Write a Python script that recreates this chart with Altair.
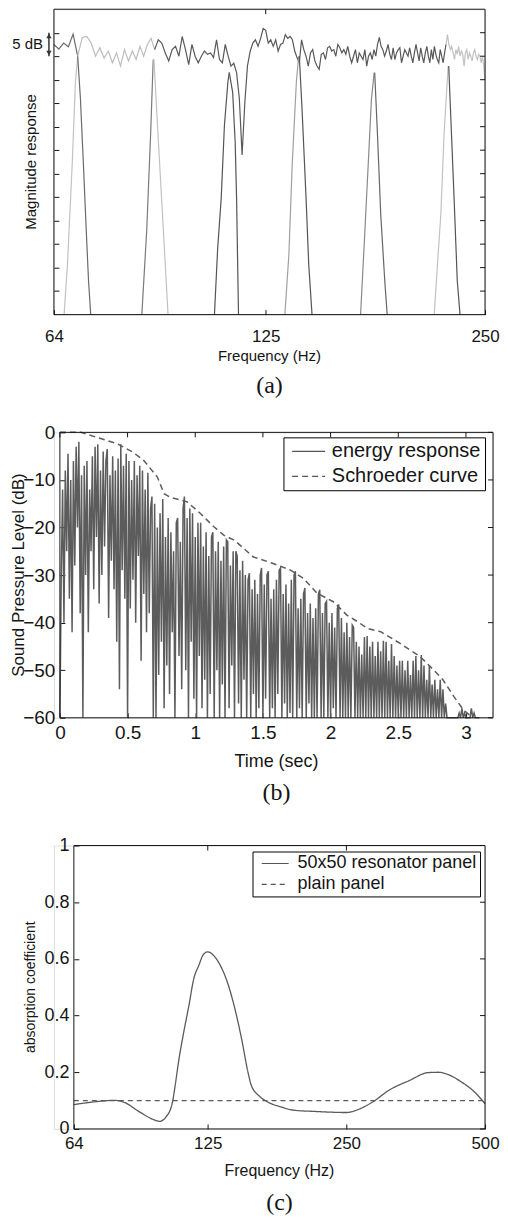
import altair as alt
import pandas as pd

FONT = "Liberation Sans"
SERIF = "Liberation Serif"
INK = "#151515"
TICK = 5

# ---------------- panel (a): magnitude responses ----------------
A_FREQ = list(range(64, 251))
A_TOP_DB = [
    -2.5, -3.5, -2.2, -3.0, -0.3, -5.0, -1.0,                          # 64-70
    -0.8, -2.2, -5.0, -3.2, -5.4, -3.9, -6.4, -4.3, -7.1, -3.6,        # 71-80
    -6.0, -3.9, -5.7, -2.9, -5.0, -2.5, -1.2, -3.6, -1.5, -2.2,        # 81-90
    -4.3, -6.0, -3.6, -2.9, -5.0, -0.8, -3.6, -6.8, -2.5, -5.0,        # 91-100
    -6.4, -5.0, -3.9, -4.6, -4.3, -5.3, -1.5, -5.7, -6.4, -2.5,        # 101-110
    -5.0, -7.1, -6.5, -8.5, -14.0, -26.0, -15.0, -7.0, -4.0, -2.2,     # 111-120
    -1.5, -2.9, -1.2, 0.9, 0.5, -2.2, -1.5, -2.9, -1.5, -3.9,          # 121-130
    -2.5, -2.2, -0.4, -1.2, -0.8, -1.5, -3.9, -5.3, -6.4, -1.5,        # 131-140
    -3.6, -5.0, -7.1, -4.3, -3.6, -6.0, -7.1, -7.8, -4.6, -4.3,        # 141-150
    -5.7, -3.2, -2.9, -3.9, -3.6, -5.0, -2.5, -3.2, -4.3, -3.6,        # 151-160
    -4.6, -2.9, -5.0, -6.4, -5.0, -3.6, -6.4, -4.3, -5.0, -5.7,        # 161-170
    -3.6, -7.1, -5.0, -4.3, -5.7, -3.6, -5.0, -2.5, -1.0, -2.9,        # 171-180
    -3.6, -5.0, -3.9, -2.5, -4.6, -5.7, -3.2, -5.7, -4.3, -3.6,        # 181-190
    -3.2, -6.4, -5.0, -3.6, -4.3, -5.0, -3.2, -5.0, -6.4, -4.3,        # 191-200
    -2.5, -4.3, -6.0, -3.2, -5.0, -6.4, -4.3, -2.9, -5.0, -6.4,        # 201-210
    -3.6, -5.7, -2.9, -4.6, -5.7, -6.4, -3.6, -5.0, -6.4, -4.3,        # 211-220
    -2.5, -0.4, -2.5, -3.6, -2.9, -4.3, -5.7, -3.6, -4.6, -2.9,        # 221-230
    -5.0, -3.9, -4.6, -7.1, -4.3, -3.6, -5.7, -4.3, -5.0, -6.0,        # 231-240
    -4.3, -3.6, -5.0, -5.7, -4.6, -5.0, -6.4, -5.0, -7.0, -10.0,       # 241-250
]
# colour segments of the broadband curve: (name, from Hz, to Hz, colour)
A_TOP_SEGMENTS = [
    ("top 1", 64, 69, "#6b6b6b"),
    ("top 2", 69, 88, "#bdbdbd"),
    ("top 3", 88, 221, "#595959"),
    ("top 4", 221, 250, "#c2c2c2"),
]
# band-filter legs: (name, colour, frequencies, dB)
A_LEGS = [
    ("p1 l", "#c2c2c2", [66.1, 66.8, 67.8, 68.5, 69.0], [-60, -49.3, -28.2, -10.6, -5.0]),
    ("p1 r", "#6b6b6b", [69.0, 69.6, 70.2, 70.9, 71.4, 71.9], [-5.0, -14.1, -26.8, -42.3, -52.8, -60]),
    ("p2 l", "#7a7a7a", [84.5, 85.8, 86.9, 87.6], [-60, -42.3, -21.2, -5.7]),
    ("p2 r", "#c2c2c2", [87.8, 89.0, 90.2, 91.8], [-5.7, -22.6, -38.7, -60]),
    ("p3 l", "#555555", [106.3, 107.4, 108.6, 109.7, 110.9, 111.4], [-60, -45.8, -35.2, -19.8, -10.6, -8.5]),
    ("p3 r", "#555555", [111.4, 112.6, 113.5, 114.0, 114.7], [-8.5, -12.7, -23.3, -35.2, -60]),
    ("p4 l", "#a0a0a0", [132.8, 134.5, 135.9, 137.7, 138.7], [-60, -47.2, -28.2, -10.6, -5.0]),
    ("p4 r", "#555555", [139.0, 140.2, 142.0, 143.2, 144.7], [-5.0, -16.2, -35.2, -49.3, -60]),
    ("p5 l", "#8a8a8a", [168.7, 171.0, 172.8, 174.6, 176.1], [-60, -42.3, -28.2, -14.1, -8.5]),
    ("p5 r", "#666666", [176.4, 177.9, 179.8, 182.1, 183.5], [-8.5, -21.2, -38.7, -52.8, -60]),
    ("p6 l", "#c2c2c2", [212.9, 215.1, 217.4, 219.7, 222.5], [-60, -49.3, -38.7, -21.2, -7.1]),
    ("p6 r", "#555555", [222.9, 224.8, 226.7, 229.0, 231.0], [-7.1, -21.2, -35.2, -52.8, -60]),
]
A_XTICKS = [64, 125, 250]
A_YTICKS = [-55, -50, -45, -40, -35, -30, -25, -20, -15, -10, -5, 0]

# ---------------- panel (b): energy decay ----------------
B_ENERGY_DB = [
    -60, -30, -12, -40, -8, -25, -4.5, -35, -10, -42,
    -6, -28, -3, -20, -2, -38, -9, -60, -7, -30,
    -6, -42, -12, -25, -5, -33, -3, -22, -2.5, -36,
    -8, -30, -4, -24, -6, -3.5, -39, -9, -27, -5,
    -33, -8, -44, -5.5, -54, -2.5, -29, -7, -35, -4.5,
    -60, -6, -37, -10, -31, -6, -40, -9, -26, -7,
    -48, -8, -34, -12, -42, -8.5, -38, -16, -13.5, -60,
    -15, -60, -20, -51, -17, -44, -14, -58, -22, -49,
    -18, -55, -21, -42, -25, -60, -19, -18, -47, -23,
    -54, -16, -13.5, -50, -18, -60, -16, -44, -17, -56,
    -22, -60, -19, -47, -19, -58, -24, -52, -21, -60,
    -26, -55, -22, -21, -60, -25, -50, -23, -60, -27,
    -53, -24, -60, -22.6, -23, -58, -28, -49, -25, -60,
    -25, -26, -57, -29, -60, -27, -52, -30, -60, -31,
    -29.6, -60, -33, -55, -31, -60, -34, -58, -30, -28.5,
    -60, -32, -56, -30, -29.2, -60, -35, -58, -33, -60,
    -31, -55, -29, -28.5, -60, -34, -57, -32, -60, -36,
    -59, -31, -60, -30, -29.2, -60, -37, -58, -35, -60,
    -34, -32.7, -60, -38, -57, -36, -60, -39, -60, -37,
    -60, -34, -33.1, -60, -38, -60, -36, -35.5, -60, -40,
    -60, -38, -58, -41, -60, -37, -36.2, -60, -39, -60,
    -42, -60, -40, -60, -43, -60, -40.5, -41, -60, -44,
    -60, -45, -60, -46.7, -60, -43, -60, -42.8, -60, -45,
    -60, -44, -60, -47, -60, -44, -60, -46, -60, -43.8,
    -60, -44, -60, -48, -60, -44.5, -60, -47, -60, -49,
    -60, -48, -60, -48, -60, -50, -60, -48, -60, -51,
    -60, -48, -60, -47, -60, -50, -60, -46.8, -60, -49,
    -60, -52, -60, -49, -60, -53, -60, -52, -60, -54,
    -60, -52, -60, -54, -60, -57, -60, -60, -60, -60,
    -60, -60, -60, -60, -60, -59, -60, -58, -60, -59,
    -60, -60, -60, -60, -58, -60, -59, -60, -60, -60, -60,
]
B_STEP = 0.01  # sampling interval of the energy response (s)
B_SCHROEDER_T = [0.0, 0.155, 0.30, 0.425, 0.536, 0.62, 0.72, 0.77, 0.82, 0.94, 1.04, 1.14,
                 1.21, 1.29, 1.43, 1.56, 1.70, 1.80, 1.90, 2.02, 2.12, 2.20, 2.27, 2.37,
                 2.51, 2.66, 2.76, 2.83, 2.91, 2.98, 3.05]
B_SCHROEDER_DB = [0.0, 0.0, -1.3, -2.4, -4.1, -5.9, -9.4, -12.9, -13.7, -14.6, -17.1, -19.9,
                  -21.6, -22.7, -26.2, -27.4, -28.9, -30.7, -33.8, -35.6, -38.4, -39.8, -41.2, -41.9,
                  -44.3, -47.1, -49.9, -52.0, -55.5, -58.3, -60.0]
B_SERIES = ["energy response", "Schroeder curve"]
B_XTICKS = [0, 0.5, 1, 1.5, 2, 2.5, 3]
B_YTICKS = [-60, -50, -40, -30, -20, -10, 0]

# ---------------- panel (c): absorption ----------------
C_FREQ = [64, 73.3, 78.1, 82.0, 88.9, 95.0, 98.3, 101.4, 104.8, 105.7, 108.3, 110.9, 113.8,
          116.6, 119.6, 122.0, 125.0, 128.7, 133.0, 138.5, 143.1, 148.0, 152.8, 155.4,
          162.0, 168.8, 180.0, 192.4, 212.2, 250.0, 262.5, 285.0, 309.6, 341.6, 377.0, 395.9,
          415.6, 444.0, 474.0, 500.0]
C_ALPHA = [0.086, 0.098, 0.101, 0.095, 0.060, 0.034, 0.027, 0.042, 0.095, 0.131, 0.249, 0.343, 0.437,
           0.531, 0.578, 0.613, 0.625, 0.612, 0.578, 0.508, 0.425, 0.319, 0.201, 0.154,
           0.115, 0.095, 0.078, 0.066, 0.062, 0.058, 0.066, 0.095, 0.137, 0.170, 0.199, 0.200,
           0.192, 0.166, 0.131, 0.089]
C_PLAIN_FREQ = [64, 500]
C_PLAIN_ALPHA = [0.1, 0.1]
C_SERIES = ["50x50 resonator panel", "plain panel"]
C_XTICKS = [64, 125, 250, 500]
C_YTICKS = [0, 0.2, 0.4, 0.6, 0.8, 1]

LEFT_EXTENT = 45  # common origin of all plot groups sits 45px right of the page margin


def tick_axis(orient, values, **kw):
    """Matlab-like axis: ticks pointing into the plot, no axis title."""
    base = dict(orient=orient, values=values, offset=-TICK, tickSize=TICK, domain=False,
                grid=False, tickColor=INK, labelColor=INK, labelFont=FONT, labelFlush=False,
                labelOverlap=False, minExtent=0, title=None)
    base.update(kw)
    return alt.Axis(**base)


def frame_ticks(xs, ys, xvals, yvals, x_right):
    """Inward ticks on the top and right edges of the box."""
    top = alt.Chart(pd.DataFrame({"tv": xvals})).mark_rule(color=INK, strokeWidth=1).encode(
        x=alt.X("tv:Q", scale=xs, axis=None), y=alt.value(0), y2=alt.value(TICK))
    right = alt.Chart(pd.DataFrame({"rv": yvals})).mark_rule(color=INK, strokeWidth=1).encode(
        y=alt.Y("rv:Q", scale=ys, axis=None), x=alt.value(x_right - TICK), x2=alt.value(x_right))
    return [top, right]


def frame(x0, x1, h):
    d = pd.DataFrame({"k": [0]})
    return alt.Chart(d).mark_rect(filled=False, stroke=INK, strokeWidth=1).encode(
        x=alt.value(x0), x2=alt.value(x1), y=alt.value(0), y2=alt.value(h))


def anchor(top, bottom):
    d = pd.DataFrame({"k": [0]})
    return alt.Chart(d).mark_rule(strokeOpacity=0, strokeWidth=0).encode(
        x=alt.value(-LEFT_EXTENT), x2=alt.value(-LEFT_EXTENT), y=alt.value(top), y2=alt.value(bottom))


def label_text(text, x, y, size, font=FONT, angle=0):
    d = pd.DataFrame({"txt": [text]})
    return alt.Chart(d).mark_text(font=font, fontSize=size, color=INK, align="center",
                                  baseline="middle", angle=angle).encode(
        x=alt.value(x), y=alt.value(y), text="txt:N")


def line_legend(x, y, font_size, pad, row_pad, sym_side, path, label_offset):
    return alt.Legend(title=None, orient="none", legendX=x, legendY=y, direction="vertical",
                      fillColor="white", strokeColor="black", padding=pad, cornerRadius=0,
                      labelFont=FONT, labelFontSize=font_size, labelColor=INK,
                      labelOffset=label_offset, symbolType=path, symbolSize=sym_side ** 2,
                      symbolStrokeWidth=1.2, symbolStrokeColor="#555555", symbolFillColor="white",
                      symbolOpacity=1, rowPadding=row_pad, labelLimit=400)


# ---------- build panel (a) ----------
A_OFF, A_W, A_H = 0, 432, 306
XA = alt.Scale(type="log", base=2, domain=[64, 250], range=[A_OFF, A_OFF + A_W], nice=False)
YA = alt.Scale(domain=[-60, 5], nice=False, zero=False)

rows, names, colors = [], [], []
for name, lo, hi, col in A_TOP_SEGMENTS:
    names.append(name); colors.append(col)
    for i, f in enumerate(A_FREQ):
        if lo <= f <= hi:
            rows.append({"series": name, "f": f, "db": A_TOP_DB[i], "o": i})
for name, col, fs, ds in A_LEGS:
    names.append(name); colors.append(col)
    for j, (f, d) in enumerate(zip(fs, ds)):
        rows.append({"series": name, "f": f, "db": d, "o": j})
df_a = pd.DataFrame(rows)

a_lines = alt.Chart(df_a).mark_line(strokeWidth=1.2).encode(
    x=alt.X("f:Q", scale=XA, axis=tick_axis("bottom", A_XTICKS, format="d", labelFontSize=17,
                                             labelPadding=14)),
    y=alt.Y("db:Q", scale=YA, axis=tick_axis("left", A_YTICKS, labels=False, offset=-(A_OFF + TICK))),
    color=alt.Color("series:N", scale=alt.Scale(domain=names, range=colors), legend=None),
    order="o:Q",
)
arrow_df = pd.DataFrame({"y0": [0.0], "y1": [-5.0]})
a_arrow = alt.Chart(arrow_df).mark_rule(color="#333333", strokeWidth=1.5).encode(
    x=alt.value(A_OFF - 5), y=alt.Y("y0:Q", scale=YA, axis=None), y2="y1:Q")
heads_df = pd.DataFrame({"y": [-0.7, -4.3], "shape": ["triangle-up", "triangle-down"]})
a_heads = alt.Chart(heads_df).mark_point(filled=True, size=28, color="#333333", opacity=1).encode(
    x=alt.value(A_OFF - 5), y=alt.Y("y:Q", scale=YA, axis=None),
    shape=alt.Shape("shape:N", scale=None))
lab_df = pd.DataFrame({"y": [-2.5], "t": ["5 dB"]})
a_lab = alt.Chart(lab_df).mark_text(font=FONT, fontSize=15, color=INK, align="right",
                                    baseline="middle").encode(
    x=alt.value(A_OFF - 11), y=alt.Y("y:Q", scale=YA, axis=None), text="t:N")

panel_a = alt.layer(
    a_lines, a_arrow, a_heads, a_lab,
    *frame_ticks(XA, YA, [125], A_YTICKS, A_OFF + A_W),
    frame(A_OFF, A_OFF + A_W, A_H),
    label_text("Magnitude response", -23, A_H / 2, 15, angle=270),
    label_text("Frequency (Hz)", A_OFF + A_W / 2, 347, 15),
    label_text("(a)", A_OFF + A_W / 2, 378, 24, font=SERIF),
    anchor(-2, 410),
).resolve_axis(x="independent", y="independent").properties(width=A_OFF + A_W, height=A_H)

# ---------- build panel (b) ----------
B_OFF, B_W, B_H = 6, 434, 286
XB = alt.Scale(domain=[0, 3.2], range=[B_OFF, B_OFF + B_W], nice=False, zero=False)
YB = alt.Scale(domain=[-60, 0], nice=False, zero=False)
df_e = pd.DataFrame({"t": [round(i * B_STEP, 2) for i in range(len(B_ENERGY_DB))],
                     "db": B_ENERGY_DB, "series": B_SERIES[0]})
df_s = pd.DataFrame({"t": B_SCHROEDER_T, "db": B_SCHROEDER_DB, "series": B_SERIES[1]})

leg_b = line_legend(B_OFF + 224, 5, 20, 4, 5, 16.5, "M-0.636,0H3.364", 24.5)
dash_b = alt.StrokeDash("series:N", scale=alt.Scale(domain=B_SERIES, range=[[1, 0], [6, 4]]),
                        legend=leg_b)
bx = alt.X("t:Q", scale=XB, axis=tick_axis("bottom", B_XTICKS, format="~g", labelFontSize=19,
                                            labelPadding=6))
by = alt.Y("db:Q", scale=YB, axis=tick_axis("left", B_YTICKS, labelFontSize=19, labelPadding=5,
                                             offset=-(B_OFF + TICK)))
b_energy = alt.Chart(df_e).mark_line(color="#5c5c5c", strokeWidth=1.5).encode(
    x=bx, y=by, strokeDash=dash_b)
b_schroeder = alt.Chart(df_s).mark_line(color="#5c5c5c", strokeWidth=1.5).encode(
    x=alt.X("t:Q", scale=XB, axis=None), y=alt.Y("db:Q", scale=YB, axis=None), strokeDash=dash_b)

panel_b = alt.layer(
    b_energy, b_schroeder,
    *frame_ticks(XB, YB, B_XTICKS, B_YTICKS, B_OFF + B_W),
    frame(B_OFF, B_OFF + B_W, B_H),
    label_text("Sound Pressure Level (dB)", -35, B_H / 2, 17, angle=270),
    label_text("Time (sec)", B_OFF + B_W / 2, 330, 18),
    label_text("(b)", B_OFF + B_W / 2, 361, 24, font=SERIF),
    anchor(-12, 400),
).resolve_axis(x="independent", y="independent").properties(width=B_OFF + B_W, height=B_H)

# ---------- build panel (c) ----------
C_OFF, C_W, C_H = 20, 412, 284
XC = alt.Scale(type="log", base=2, domain=[64, 500], range=[C_OFF, C_OFF + C_W], nice=False)
YC = alt.Scale(domain=[0, 1], nice=False)
df_r = pd.DataFrame({"f": C_FREQ, "a": C_ALPHA, "series": C_SERIES[0]})
df_p = pd.DataFrame({"f": C_PLAIN_FREQ, "a": C_PLAIN_ALPHA, "series": C_SERIES[1]})
leg_c = line_legend(C_OFF + 179, 6, 18, 3, 3, 13.5, "M-0.407,0H3.593", 24.2)
dash_c = alt.StrokeDash("series:N", scale=alt.Scale(domain=C_SERIES, range=[[1, 0], [5, 4]]),
                        legend=leg_c)
c_res = alt.Chart(df_r).mark_line(color="#5a5a5a", strokeWidth=1.3, interpolate="monotone").encode(
    x=alt.X("f:Q", scale=XC, axis=tick_axis("bottom", C_XTICKS, format="d", labelFontSize=17,
                                             labelPadding=7)),
    y=alt.Y("a:Q", scale=YC, axis=tick_axis("left", C_YTICKS, format=".1~f", labelFontSize=18,
                                             labelPadding=5, offset=-(C_OFF + TICK))),
    strokeDash=dash_c)
c_plain = alt.Chart(df_p).mark_line(color="#5a5a5a", strokeWidth=1.2).encode(
    x=alt.X("f:Q", scale=XC, axis=None), y=alt.Y("a:Q", scale=YC, axis=None), strokeDash=dash_c)

panel_c = alt.layer(
    c_res, c_plain,
    *frame_ticks(XC, YC, [125, 250], C_YTICKS, C_OFF + C_W),
    frame(C_OFF, C_OFF + C_W, C_H),
    label_text("absorption coefficient", -23, C_H / 2, 14, angle=270),
    label_text("Frequency (Hz)", C_OFF + C_W / 2, 326, 16),
    label_text("(c)", C_OFF + C_W / 2, 358, 24, font=SERIF),
    anchor(-12, 0),
).resolve_axis(x="independent", y="independent").properties(width=C_OFF + C_W, height=C_H)

chart = alt.concat(panel_a, panel_b, panel_c, columns=1, spacing=0).properties(
    bounds="full", padding={"top": -3, "bottom": 0, "left": 0, "right": 0}
).resolve_scale(strokeDash="independent", color="independent").resolve_legend(
    strokeDash="independent"
).configure_view(strokeWidth=0).configure(background="white")

chart.save("out.html", embed_options={"renderer": "svg", "actions": False})
